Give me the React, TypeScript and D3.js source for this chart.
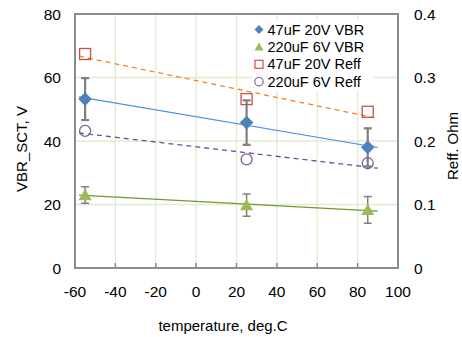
import React from "react";
import * as d3 from "d3";

const temps = [-55, 25, 85];
const vbr47 = [53.2, 45.8, 38.0];
const vbr47Err = [6.6, 7.0, 6.0];
const vbr220 = [23.0, 19.8, 18.3];
const vbr220Err = [2.6, 3.5, 4.2];
const reff47 = [0.337, 0.266, 0.246];
const reff220 = [0.216, 0.171, 0.165];
const xTicks = [-60, -40, -20, 0, 20, 40, 60, 80, 100];
const yTicks = [0, 20, 40, 60, 80];
const y2Ticks = [0, 0.1, 0.2, 0.3, 0.4];
const legendLabels = ["47uF 20V VBR", "220uF 6V VBR", "47uF 20V Reff", "220uF 6V Reff"];
const trendRange = [-58, 90];

const W = 462, H = 337;
const M = { left: 75, right: 398, top: 14, bottom: 268 };
const FONT = "Liberation Sans, Arial, sans-serif";

function fit(xs: number[], ys: number[]) {
  const mx = d3.mean(xs)!, my = d3.mean(ys)!;
  let sxy = 0, sxx = 0;
  xs.forEach((x, i) => { sxy += (x - mx) * (ys[i] - my); sxx += (x - mx) ** 2; });
  const b = sxy / sxx;
  return (x: number) => my + b * (x - mx);
}

export default function App() {
  const x = d3.scaleLinear().domain([-60, 100]).range([M.left, M.right]);
  const y = d3.scaleLinear().domain([0, 80]).range([M.bottom, M.top]);
  const y2 = d3.scaleLinear().domain([0, 0.4]).range([M.bottom, M.top]);

  const trend = (vals: number[], sc: d3.ScaleLinear<number, number>) => {
    const f = fit(temps, vals);
    return d3.line<number>().x(t => x(t)).y(t => sc(f(t)))(trendRange)!;
  };

  const grid = "#e2ebcf";
  const axis = "#8c8c8c";
  const errC = "#7f7f7f";

  const diamond = (cx: number, cy: number, r = 6.8) =>
    `M${cx},${cy - r}L${cx + r},${cy}L${cx},${cy + r}L${cx - r},${cy}Z`;
  const tri = (cx: number, cy: number, s = 6.5) =>
    `M${cx},${cy - s}L${cx + s},${cy + s * 0.8}L${cx - s},${cy + s * 0.8}Z`;

  const errBar = (t: number, v: number, e: number, key: string, w: number) => (
    <g key={key} stroke={errC} strokeWidth={w}>
      <line x1={x(t)} x2={x(t)} y1={y(v + e)} y2={y(v - e)} />
      <line x1={x(t) - 4} x2={x(t) + 4} y1={y(v + e)} y2={y(v + e)} />
      <line x1={x(t) - 4} x2={x(t) + 4} y1={y(v - e)} y2={y(v - e)} />
    </g>
  );

  const lx = 259, ly0 = 29.5, ldy = 17.4;

  return (
    <svg width={W} height={H} style={{ position: "absolute", left: 0, top: 0, background: "#fff" }} fontFamily={FONT}>
      {/* gridlines */}
      {xTicks.slice(1, -1).map(t => (
        <line key={"gx" + t} x1={x(t)} x2={x(t)} y1={M.top} y2={M.bottom} stroke={grid} strokeWidth={1.3} />
      ))}
      {yTicks.slice(1, -1).map(t => (
        <line key={"gy" + t} x1={M.left} x2={M.right} y1={y(t)} y2={y(t)} stroke={grid} strokeWidth={1.3} />
      ))}
      {/* frame */}
      <rect x={M.left} y={M.top} width={M.right - M.left} height={M.bottom - M.top} fill="none" stroke={axis} strokeWidth={2} />
      {/* ticks */}
      {xTicks.map(t => (
        <g key={"tx" + t}>
          <line x1={x(t)} x2={x(t)} y1={M.bottom} y2={M.bottom - 5} stroke={axis} strokeWidth={1.5} />
          <text x={x(t)} y={296.5} fontSize={15.5} textAnchor="middle">{t}</text>
        </g>
      ))}
      {yTicks.map(t => (
        <text key={"ty" + t} x={61} y={y(t) + 5.5} fontSize={15.5} textAnchor="end">{t}</text>
      ))}
      {y2Ticks.map(t => (
        <text key={"ty2" + t} x={414} y={y2(t) + 5.5} fontSize={15.5} textAnchor="start">{t}</text>
      ))}
      {/* axis titles */}
      <text x={223} y={331} fontSize={15} textAnchor="middle">temperature, deg.C</text>
      <text transform={`translate(27,149) rotate(-90)`} fontSize={15} textAnchor="middle">VBR_SCT, V</text>
      <text transform={`translate(458,146) rotate(-90)`} fontSize={15} textAnchor="middle">Reff. Ohm</text>

      {/* trendlines */}
      <path d={trend(vbr47, y)} fill="none" stroke="#4a8fe0" strokeWidth={1.2} />
      <path d={trend(vbr220, y)} fill="none" stroke="#6f9a2e" strokeWidth={1.2} />
      <path d={trend(reff47, y2)} fill="none" stroke="#f2832a" strokeWidth={1.3} strokeDasharray="5,4" />
      <path d={trend(reff220, y2)} fill="none" stroke="#6a4e9a" strokeWidth={1.3} strokeDasharray="5,4" />

      {/* error bars */}
      {temps.map((t, i) => errBar(t, vbr47[i], vbr47Err[i], "e47" + i, 2.2))}
      {temps.map((t, i) => errBar(t, vbr220[i], vbr220Err[i], "e220" + i, 1.5))}

      {/* markers */}
      {temps.map((t, i) => (
        <rect key={"s" + i} x={x(t) - 5.5} y={y2(reff47[i]) - 5.5} width={11} height={11} fill="none" stroke="#c9504d" strokeWidth={1.3} />
      ))}
      {temps.map((t, i) => (
        <circle key={"c" + i} cx={x(t)} cy={y2(reff220[i])} r={5.5} fill="none" stroke="#8064a2" strokeWidth={1.3} />
      ))}
      {temps.map((t, i) => (
        <path key={"d" + i} d={diamond(x(t), y(vbr47[i]))} fill="#4f81bd" />
      ))}
      {temps.map((t, i) => (
        <path key={"t" + i} d={tri(x(t), y(vbr220[i]))} fill="#9bbb59" />
      ))}

      {/* legend */}
      <rect x={253} y={20} width={120} height={71} fill="#fff" />
      <path d={diamond(lx, ly0, 4.5)} fill="#4f81bd" />
      <path d={tri(lx, ly0 + ldy, 4.5)} fill="#9bbb59" />
      <rect x={lx - 4} y={ly0 + 2 * ldy - 4} width={8} height={8} fill="none" stroke="#c9504d" strokeWidth={1.2} />
      <circle cx={lx} cy={ly0 + 3 * ldy} r={4.2} fill="none" stroke="#8064a2" strokeWidth={1.2} />
      {legendLabels.map((l, i) => (
        <text key={l} x={267.5} y={ly0 + i * ldy + 5} fontSize={14.5}>{l}</text>
      ))}
    </svg>
  );
}
